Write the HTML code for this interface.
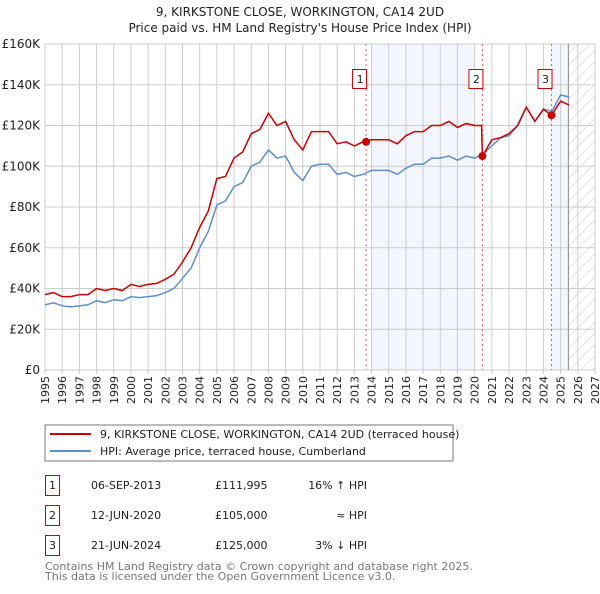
<!DOCTYPE html>
<html><head><meta charset="utf-8"><style>
body{margin:0;background:#fff;width:600px;height:590px;overflow:hidden;font-family:"DejaVu Sans","Liberation Sans",sans-serif;}
svg text{font-family:"DejaVu Sans","Liberation Sans",sans-serif;}
</style></head><body>
<svg id="c" width="600" height="590" xmlns="http://www.w3.org/2000/svg">
<defs><pattern id="hatch" width="8" height="8" patternUnits="userSpaceOnUse" patternTransform="rotate(45)"><line x1="0" y1="0" x2="0" y2="8" stroke="#ccc" stroke-width="1"/></pattern></defs>
<text x="300" y="16" text-anchor="middle" font-size="12" fill="#222">9, KIRKSTONE CLOSE, WORKINGTON, CA14 2UD</text>
<text x="300" y="32" text-anchor="middle" font-size="12" fill="#222">Price paid vs. HM Land Registry's House Price Index (HPI)</text>
<g id="plot"></g>
<rect x="45" y="425" width="408" height="36" fill="#fff" stroke="#777"/>
<line x1="50" y1="434" x2="91" y2="434" stroke="#cc0000" stroke-width="2"/>
<text x="100" y="438" font-size="11" fill="#222">9, KIRKSTONE CLOSE, WORKINGTON, CA14 2UD (terraced house)</text>
<line x1="50" y1="451" x2="91" y2="451" stroke="#5b8fd0" stroke-width="2"/>
<text x="100" y="455" font-size="11" fill="#222">HPI: Average price, terraced house, Cumberland</text>
<g font-size="11" fill="#222">
<rect x="45.5" y="475.5" width="14" height="20" fill="none" stroke="#cc0000"/><text x="52.5" y="489" text-anchor="middle">1</text>
<text x="91" y="489">06-SEP-2013</text><text x="215" y="489">£111,995</text><text x="367" y="489" text-anchor="end">16% ↑ HPI</text>
<rect x="45.5" y="505.5" width="14" height="20" fill="none" stroke="#cc0000"/><text x="52.5" y="519" text-anchor="middle">2</text>
<text x="91" y="519">12-JUN-2020</text><text x="215" y="519">£105,000</text><text x="367" y="519" text-anchor="end">≈ HPI</text>
<rect x="45.5" y="535.5" width="14" height="20" fill="none" stroke="#cc0000"/><text x="52.5" y="549" text-anchor="middle">3</text>
<text x="91" y="549">21-JUN-2024</text><text x="215" y="549">£125,000</text><text x="367" y="549" text-anchor="end">3% ↓ HPI</text>
</g>
<text x="45" y="570" font-size="11" fill="#777">Contains HM Land Registry data © Crown copyright and database right 2025.</text>
<text x="45" y="580" font-size="11" fill="#777">This data is licensed under the Open Government Licence v3.0.</text>
</svg>
<script>
const years=[1995,1995.5,1996,1996.5,1997,1997.5,1998,1998.5,1999,1999.5,2000,2000.5,2001,2001.5,2002,2002.5,2003,2003.5,2004,2004.5,2005,2005.5,2006,2006.5,2007,2007.5,2008,2008.5,2009,2009.5,2010,2010.5,2011,2011.5,2012,2012.5,2013,2013.5,2014,2014.5,2015,2015.5,2016,2016.5,2017,2017.5,2018,2018.5,2019,2019.5,2020,2020.5,2021,2021.5,2022,2022.5,2023,2023.5,2024,2024.5,2025,2025.5];
const hpiValues=[32,33,31.5,31,31.5,32,34,33,34.5,34,36,35.5,36,36.5,38,40,45,50,60,68,81,83,90,92,100,102,108,104,105,97,93,100,101,101,96,97,95,96,98,98,98,96,99,101,101,104,104,105,103,105,104,106,110,114,115,120,129,122,128,127,135,134];
const propYears=[1995,1995.5,1996,1996.5,1997,1997.5,1998,1998.5,1999,1999.5,2000,2000.5,2001,2001.5,2002,2002.5,2003,2003.5,2004,2004.5,2005,2005.5,2006,2006.5,2007,2007.5,2008,2008.5,2009,2009.5,2010,2010.5,2011,2011.5,2012,2012.5,2013,2013.5,2014,2014.5,2015,2015.5,2016,2016.5,2017,2017.5,2018,2018.5,2019,2019.5,2020,2020.4,2020.45,2021,2021.5,2022,2022.5,2023,2023.5,2024,2024.47,2025,2025.5];
const propValues=[37,38,36,36,37,37,40,39,40,39,42,41,42,42.5,44.5,47,53,60,70,78,94,95,104,107,116,118,126,120,122,113,108,117,117,117,111,112,110,112,113,113,113,111,115,117,117,120,120,122,119,121,120,120,105,113,114,116,120,129,122,128,125,132,130];
const saleYears=[2013.68,2020.45,2024.47];
const saleValues=[111.995,105,125];
const saleLabels=["1","2","3"];
const yTicks=[0,20,40,60,80,100,120,140,160];
const yTickLabels=["£0","£20K","£40K","£60K","£80K","£100K","£120K","£140K","£160K"];
const xTicks=[1995,1996,1997,1998,1999,2000,2001,2002,2003,2004,2005,2006,2007,2008,2009,2010,2011,2012,2013,2014,2015,2016,2017,2018,2019,2020,2021,2022,2023,2024,2025,2026,2027];

const L=45,R=595,T=44,B=370;
const x=v=>L+(v-1995)/(2027-1995)*(R-L);
const y=v=>B-v/160*(B-T);
const NS="http://www.w3.org/2000/svg";
const g=document.getElementById('plot');
function mk(tag,attrs,parent){const e=document.createElementNS(NS,tag);for(const k in attrs)e.setAttribute(k,attrs[k]);(parent||g).appendChild(e);return e;}

let e;
e=mk('rect',{x:x(2014),y:T,width:x(2020)-x(2014),height:B-T,fill:'#eef2fc',opacity:0.7});


e=mk('rect',{x:x(2024.4),y:T,width:x(2025.45)-x(2024.4),height:B-T,fill:'#eef2fc',opacity:0.7});


e=mk('rect',{x:x(2025.45),y:T,width:R-x(2025.45),height:B-T,fill:'url(#hatch)'});



xTicks.forEach(t=>{
  e=mk('line',{x1:x(t),x2:x(t),y1:T,y2:B+4,stroke:'#ccc','stroke-width':1});
  
  
  e=mk('text',{x:0,y:0,'font-size':11,fill:'#222','text-anchor':'end',transform:`translate(${x(t)+4},${B+6}) rotate(-90)`});
  e.textContent=t;
  
  
});
yTicks.forEach((t,i)=>{
  e=mk('line',{x1:L,x2:R,y1:y(t),y2:y(t),stroke:'#ccc','stroke-width':1});
  
  
  e=mk('text',{x:L-5,y:y(t)+4,'font-size':12,fill:'#222','text-anchor':'end'});
  e.textContent=yTickLabels[i];
  
  
});
e=mk('line',{x1:x(2025.45),x2:x(2025.45),y1:T,y2:B,stroke:'#888','stroke-width':1});



saleYears.forEach((s,i)=>{
  e=mk('line',{x1:x(s),x2:x(s),y1:T,y2:B,stroke:'#e06060','stroke-width':1,'stroke-dasharray':'2,3'});
  
  
  e=mk('rect',{x:x(s)-21+7.5,y:69.5,width:14,height:19,fill:'#fff',stroke:'#cc0000'});
  
  
  e=mk('text',{x:x(s)-6.5+7.5-7,y:83,'font-size':11,fill:'#222','text-anchor':'middle'});
  e.textContent=saleLabels[i];
  
  
});

e=mk('polyline',{points:years.map((t,i)=>x(t)+','+y(hpiValues[i])).join(' '),fill:'none',stroke:'#5b8fd0','stroke-width':1.5});


e=mk('polyline',{points:propYears.map((t,i)=>x(t)+','+y(propValues[i])).join(' '),fill:'none',stroke:'#cc0000','stroke-width':1.5});


saleYears.forEach((s,i)=>{
  e=mk('circle',{cx:x(s),cy:y(saleValues[i]),r:4,fill:'#cc0000'});
  
  
});
</script>
</body></html>
